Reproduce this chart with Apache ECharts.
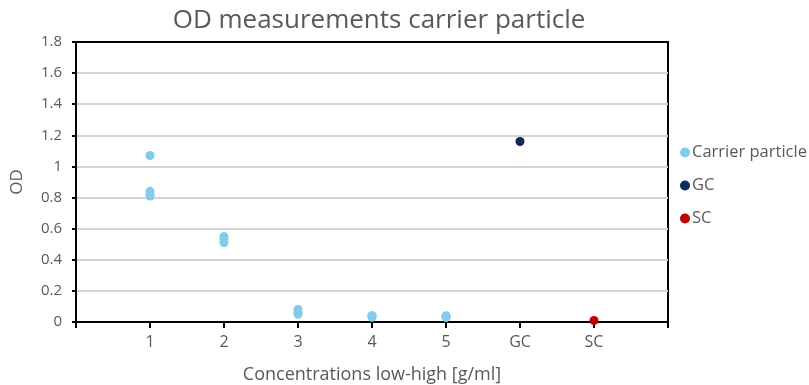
<!DOCTYPE html>
<html>
<head>
<meta charset="utf-8">
<script src="https://cdn.jsdelivr.net/npm/echarts@6/dist/echarts.min.js"></script>
<style>
  html, body { margin: 0; padding: 0; background: #fff; }
  #chart { width: 809px; height: 385px; }
</style>
</head>
<body>
<div id="chart"></div>
<script>
// Sample groups along the x axis (positions 1..7)
const groups = ['1', '2', '3', '4', '5', 'GC', 'SC'];

// OD readings for the carrier particle at concentrations 1..5 (replicates)
const carrierValues = [
  [1.07, 0.84, 0.82, 0.81],
  [0.55, 0.53, 0.51],
  [0.08, 0.06, 0.05],
  [0.04, 0.04, 0.03],
  [0.04, 0.03, 0.03]
];
// Controls
const gcValues = [1.16];
const scValues = [0.01];

const yTicks = { min: 0, max: 1.8, step: 0.2 };

const carrierPoints = [];
carrierValues.forEach((vals, i) => vals.forEach(v => carrierPoints.push([i + 1, v])));
const gcPoints = gcValues.map(v => [groups.indexOf('GC') + 1, v]);
const scPoints = scValues.map(v => [groups.indexOf('SC') + 1, v]);

const textColor = '#595959';
const fontFamily = '"Open Sans", "Noto Sans", sans-serif';

const chart = echarts.init(document.getElementById('chart'), null, { renderer: 'canvas' });
chart.setOption({
  animation: false,
  textStyle: { fontFamily: fontFamily },
  title: {
    text: 'OD measurements carrier particle',
    left: 374,
    textAlign: 'center',
    top: 3,
    textStyle: { fontFamily: fontFamily, fontSize: 26, fontWeight: 'normal', color: textColor }
  },
  legend: {
    orient: 'vertical',
    left: 675,
    top: 139,
    itemGap: 16,
    itemWidth: 10,
    itemHeight: 10,
    icon: 'circle',
    textStyle: { fontFamily: fontFamily, fontSize: 16.5, color: textColor, padding: [0, 0, 0, -3] },
    data: ['Carrier particle', 'GC', 'SC']
  },
  grid: {
    left: 76, right: 141, top: 42, bottom: 63,
    outerBoundsMode: 'none',
    containLabel: false,
    show: true, borderColor: '#000', borderWidth: 2
  },
  xAxis: [
    {
      type: 'value',
      min: 0,
      max: groups.length + 1,
      interval: 1,
      name: 'Concentrations low-high [g/ml]',
      nameLocation: 'middle',
      nameGap: 44,
      nameTextStyle: { fontFamily: fontFamily, fontSize: 18, color: textColor },
      axisLine: { show: true, lineStyle: { color: '#000', width: 2 } },
      axisTick: { show: true, length: 6, lineStyle: { color: '#000', width: 2 } },
      axisLabel: {
        margin: 12,
        fontSize: 16,
        color: textColor,
        formatter: v => (v >= 1 && v <= groups.length ? groups[v - 1] : '')
      },
      splitLine: { show: false }
    },
    {
      // top frame edge of the plot area
      type: 'value',
      position: 'top',
      min: 0,
      max: groups.length + 1,
      z: 5,
      axisLine: { show: true, lineStyle: { color: '#000', width: 2 } },
      axisTick: { show: false },
      axisLabel: { show: false },
      splitLine: { show: false }
    }
  ],
  yAxis: {
    type: 'value',
    min: yTicks.min,
    max: yTicks.max,
    interval: yTicks.step,
    name: 'OD',
    nameLocation: 'middle',
    nameGap: 50,
    nameTextStyle: { fontFamily: fontFamily, fontSize: 17, color: textColor },
    axisLine: { show: true, lineStyle: { color: '#000', width: 2 } },
    axisTick: { show: true, length: 4, lineStyle: { color: '#000', width: 2 } },
    axisLabel: {
      margin: 14,
      fontSize: 15,
      color: textColor,
      formatter: v => String(Math.round(v * 10) / 10)
    },
    splitLine: { show: true, lineStyle: { color: '#d4d4d4', width: 2 } }
  },
  series: [
    {
      name: 'Carrier particle', type: 'scatter', data: carrierPoints,
      symbolSize: 9, itemStyle: { color: '#83CBEB', opacity: 1 }
    },
    {
      name: 'GC', type: 'scatter', data: gcPoints,
      symbolSize: 9, itemStyle: { color: '#0E2A5E', opacity: 1 }
    },
    {
      name: 'SC', type: 'scatter', data: scPoints,
      symbolSize: 9, itemStyle: { color: '#C00000', opacity: 1 }
    }
  ]
});
</script>
</body>
</html>
